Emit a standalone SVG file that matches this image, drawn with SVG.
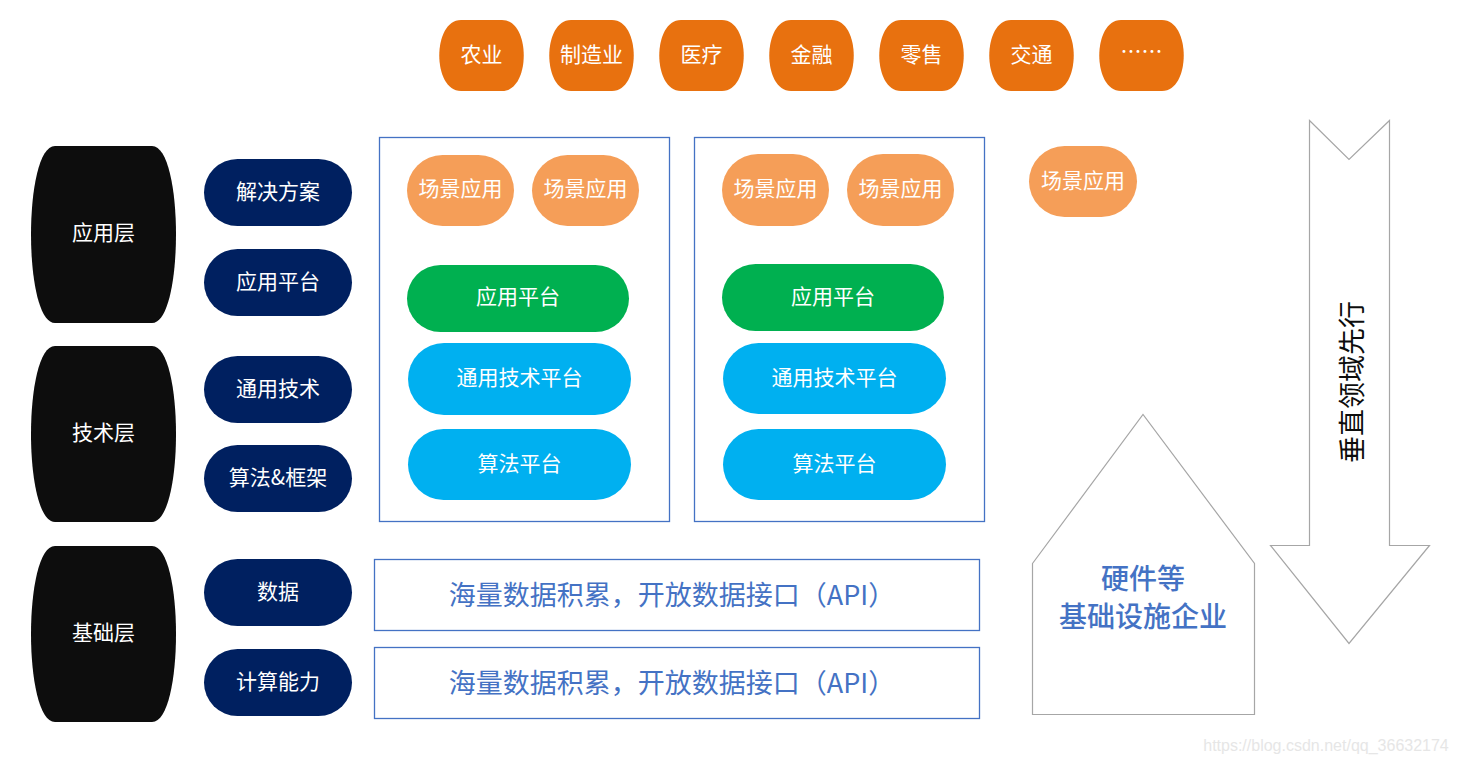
<svg xmlns="http://www.w3.org/2000/svg" width="1457" height="763" viewBox="0 0 1457 763">
<style>
text{font-family:"Noto Sans CJK SC","Noto Sans",sans-serif;text-anchor:middle;dominant-baseline:central}
.w{fill:#fff;font-size:21px}
.ind{fill:#E8710F}
.blk{fill:#0D0D0D}
.nav{fill:#002060}
.scn{fill:#F59E58}
.grn{fill:#00B050}
.cyn{fill:#00B0F0}
.box{fill:#fff;stroke:#4472C4;stroke-width:1.3}
.btx{fill:#4472C4;font-size:27px}
.htx{fill:#4472C4;font-size:28px;font-weight:500}
.gr{fill:#fff;stroke:#a6a6a6;stroke-width:1.2}
</style>
<rect width="1457" height="763" fill="#fff"/>
<g id="industries">
<g id="n-nongye"><path class="ind" d="M461,20H502C531,20 531,91 502,91H461C432,91 432,20 461,20Z"/><text class="w" x="481.5" y="53">农业</text></g>
<g id="n-zhizao"><path class="ind" d="M571,20H612C641,20 641,91 612,91H571C542,91 542,20 571,20Z"/><text class="w" x="591.5" y="53">制造业</text></g>
<g id="n-yiliao"><path class="ind" d="M681,20H722C751,20 751,91 722,91H681C652,91 652,20 681,20Z"/><text class="w" x="701.5" y="53">医疗</text></g>
<g id="n-jinrong"><path class="ind" d="M791,20H832C861,20 861,91 832,91H791C762,91 762,20 791,20Z"/><text class="w" x="811.5" y="53">金融</text></g>
<g id="n-lingshou"><path class="ind" d="M901,20H942C971,20 971,91 942,91H901C872,91 872,20 901,20Z"/><text class="w" x="921.5" y="53">零售</text></g>
<g id="n-jiaotong"><path class="ind" d="M1011,20H1052C1081,20 1081,91 1052,91H1011C982,91 982,20 1011,20Z"/><text class="w" x="1031.5" y="53">交通</text></g>
<g id="n-more"><path class="ind" d="M1121,20H1162C1191,20 1191,91 1162,91H1121C1092,91 1092,20 1121,20Z"/><text class="w" x="1141.5" y="50">……</text></g>
</g>
<g id="layers">
<g id="l-app"><path class="blk" d="M55,146H152C184,146 184,323 152,323H55C23,323 23,146 55,146Z"/><text class="w" x="103.5" y="231">应用层</text></g>
<g id="l-tech"><path class="blk" d="M55,346H152C184,346 184,522 152,522H55C23,522 23,346 55,346Z"/><text class="w" x="103.5" y="431">技术层</text></g>
<g id="l-base"><path class="blk" d="M55,546H152C184,546 184,722 152,722H55C23,722 23,546 55,546Z"/><text class="w" x="103.5" y="631">基础层</text></g>
</g>
<g id="sublayers">
<g id="s1"><rect class="nav" x="204" y="159" width="148" height="67" rx="33.5"/><text class="w" x="278" y="190">解决方案</text></g>
<g id="s2"><rect class="nav" x="204" y="249" width="148" height="67" rx="33.5"/><text class="w" x="278" y="280">应用平台</text></g>
<g id="s3"><rect class="nav" x="204" y="356" width="148" height="67" rx="33.5"/><text class="w" x="278" y="387">通用技术</text></g>
<g id="s4"><rect class="nav" x="204" y="445" width="148" height="67" rx="33.5"/><text class="w" x="278" y="476">算法&amp;框架</text></g>
<g id="s5"><rect class="nav" x="204" y="559" width="148" height="67" rx="33.5"/><text class="w" x="278" y="590">数据</text></g>
<g id="s6"><rect class="nav" x="204" y="649" width="148" height="67" rx="33.5"/><text class="w" x="278" y="680">计算能力</text></g>
</g>
<g id="stack1">
<rect class="box" x="379.5" y="137.5" width="290" height="384"/>
<g id="a1"><rect class="scn" x="407" y="155" width="107" height="71" rx="35.5"/><text class="w" x="460.5" y="187">场景应用</text></g>
<g id="a2"><rect class="scn" x="532" y="155" width="107" height="71" rx="35.5"/><text class="w" x="585.5" y="187">场景应用</text></g>
<g id="p1"><rect class="grn" x="407" y="265" width="222" height="67" rx="33.5"/><text class="w" x="518" y="295">应用平台</text></g>
<g id="t1"><rect class="cyn" x="408" y="343" width="223" height="72" rx="36"/><text class="w" x="519.5" y="376">通用技术平台</text></g>
<g id="g1"><rect class="cyn" x="408" y="429" width="223" height="71" rx="35.5"/><text class="w" x="519.5" y="462">算法平台</text></g>
</g>
<g id="stack2">
<rect class="box" x="694.5" y="137.5" width="290" height="384"/>
<g id="a3"><rect class="scn" x="722" y="154" width="107" height="72" rx="36"/><text class="w" x="775.5" y="187">场景应用</text></g>
<g id="a4"><rect class="scn" x="847" y="154" width="107" height="72" rx="36"/><text class="w" x="900.5" y="187">场景应用</text></g>
<g id="p2"><rect class="grn" x="722" y="264" width="222" height="67" rx="33.5"/><text class="w" x="833" y="295">应用平台</text></g>
<g id="t2"><rect class="cyn" x="723" y="343" width="223" height="71" rx="35.5"/><text class="w" x="834.5" y="376">通用技术平台</text></g>
<g id="g2"><rect class="cyn" x="723" y="429" width="223" height="71" rx="35.5"/><text class="w" x="834.5" y="462">算法平台</text></g>
</g>
<g id="a5"><rect class="scn" x="1029" y="146" width="108" height="71" rx="35.5"/><text class="w" x="1083" y="179">场景应用</text></g>
<g id="data1"><rect class="box" x="374.5" y="559.5" width="605" height="71"/><text class="btx" x="672" y="593">海量数据积累，开放数据接口（API）</text></g>
<g id="data2"><rect class="box" x="374.5" y="647.5" width="605" height="71"/><text class="btx" x="672" y="681">海量数据积累，开放数据接口（API）</text></g>
<g id="house"><path class="gr" d="M1032.5,563.5L1143,414.5L1254.5,563.5V714.5H1032.5Z"/>
<text class="htx" x="1143" y="577">硬件等</text>
<text class="htx" x="1143" y="615">基础设施企业</text></g>
<g id="arrow"><path class="gr" d="M1309.5,120.5L1349,159.5L1389.5,120.5V545.5H1429.5L1349,643.5L1270.5,545.5H1309.5Z"/>
<text x="1350" y="382" transform="rotate(-90 1350 382)" style="font-size:27px;fill:#0D0D0D">垂直领域先行</text></g>
<text x="1326" y="745" style="font-size:16px;fill:#e6e6e6;font-family:'Liberation Sans',sans-serif">https://blog.csdn.net/qq_36632174</text>
</svg>
